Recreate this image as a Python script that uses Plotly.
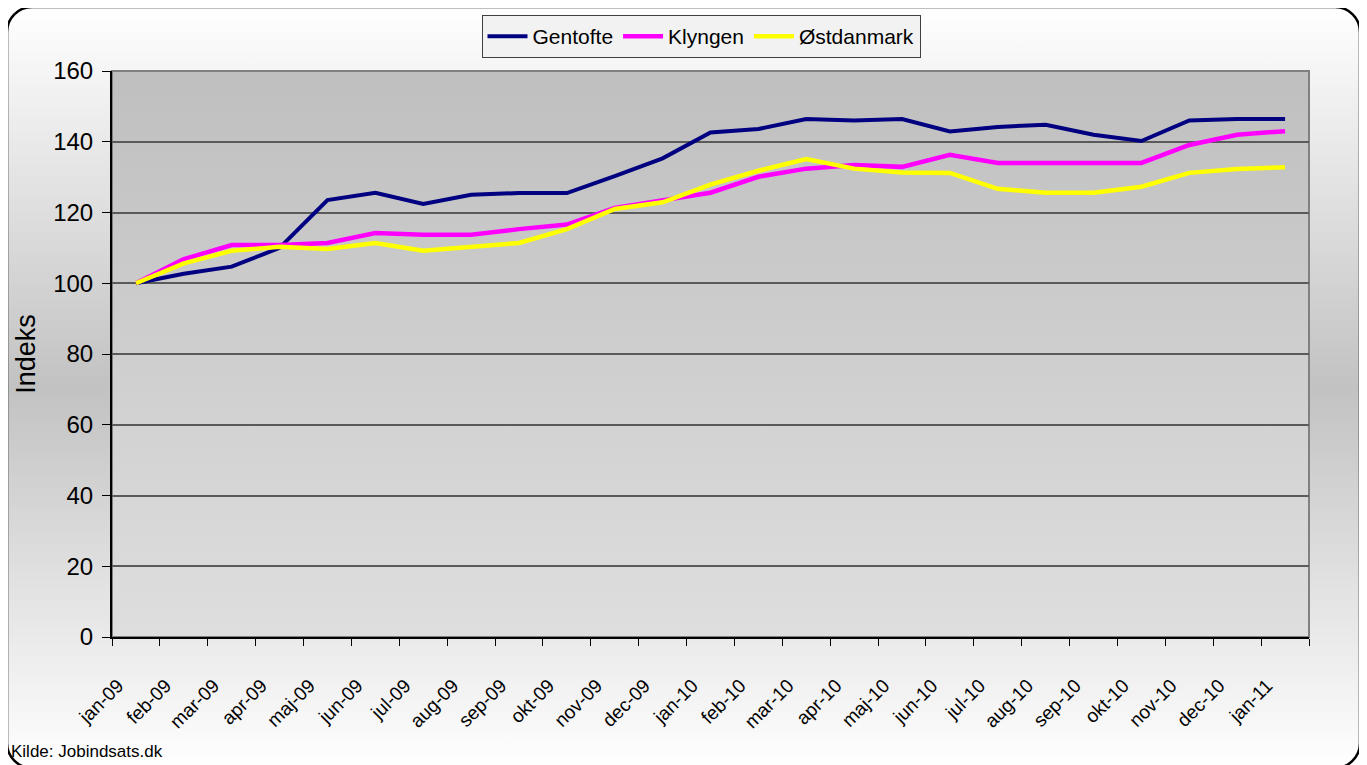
import base64
import plotly.graph_objects as go

months = ["jan-09", "feb-09", "mar-09", "apr-09", "maj-09", "jun-09", "jul-09", "aug-09",
          "sep-09", "okt-09", "nov-09", "dec-09", "jan-10", "feb-10", "mar-10", "apr-10",
          "maj-10", "jun-10", "jul-10", "aug-10", "sep-10", "okt-10", "nov-10", "dec-10", "jan-11"]

gentofte = [100, 102.7, 104.7, 110, 123.5, 125.6, 122.4, 125.0, 125.5, 125.5, 130.3, 135.3, 142.6,
            143.6, 146.4, 146.0, 146.4, 142.9, 144.2, 144.8, 142.0, 140.2, 146.0, 146.4, 146.4]
klyngen = [100, 106.8, 110.8, 110.8, 111.4, 114.2, 113.7, 113.7, 115.3, 116.6, 121.3, 123.3, 125.6,
           130.1, 132.4, 133.4, 132.9, 136.3, 134.0, 134.0, 134.0, 134.0, 139.1, 142.0, 143.0]
ostdanmark = [100, 105.6, 109.2, 110.3, 109.7, 111.4, 109.2, 110.3, 111.4, 115.3, 121.0, 122.9, 127.9,
              131.8, 135.1, 132.4, 131.3, 131.2, 126.7, 125.6, 125.6, 127.3, 131.2, 132.3, 132.8]

# page is 1367x765 but the html body keeps an 8px margin
PAGE_W, PAGE_H, OFF = 1367, 765, 8
PX0, PX1, PY0, PY1 = 112, 1309, 71, 637   # plot area in page pixels
pw, ph = PX1 - PX0, PY1 - PY0
FONT = "Arial, Liberation Sans, sans-serif"


def px(x):
    return (x - PX0) / pw


def py(y):
    return (PY1 - y) / ph


def svg_uri(svg):
    return "data:image/svg+xml;base64," + base64.b64encode(svg.encode()).decode()


outer_svg = f"""<svg xmlns='http://www.w3.org/2000/svg' width='{PAGE_W}' height='{PAGE_H}' viewBox='0 0 {PAGE_W} {PAGE_H}' preserveAspectRatio='none'>
<defs><linearGradient id='g' x1='0' y1='0' x2='0' y2='1'>
<stop offset='0' stop-color='#ffffff'/><stop offset='0.5' stop-color='#c2c2c2'/><stop offset='1' stop-color='#ffffff'/>
</linearGradient></defs>
<rect x='7' y='7' width='1353' height='761' rx='25' ry='25' fill='url(#g)' stroke='#000000' stroke-width='2.5'/>
</svg>"""

plot_svg = """<svg xmlns='http://www.w3.org/2000/svg' width='100' height='100' viewBox='0 0 100 100' preserveAspectRatio='none'>
<defs><linearGradient id='p' x1='0' y1='0' x2='0' y2='1'>
<stop offset='0' stop-color='#bfbfbf'/><stop offset='1' stop-color='#dedede'/>
</linearGradient></defs>
<rect x='0' y='0' width='100' height='100' fill='url(#p)'/>
</svg>"""

fig = go.Figure()
for name, vals, color, w in [("Gentofte", gentofte, "#000080", 4),
                             ("Klyngen", klyngen, "#ff00ff", 4.5),
                             ("Østdanmark", ostdanmark, "#ffff00", 4.5)]:
    fig.add_trace(go.Scatter(x=months, y=vals, name=name, mode="lines",
                             line=dict(color=color, width=w)))

fig.update_layout(
    width=PAGE_W - OFF, height=PAGE_H - OFF,
    margin=dict(l=PX0 - OFF, r=PAGE_W - PX1, t=PY0 - OFF, b=PAGE_H - PY1, autoexpand=False),
    paper_bgcolor="white",
    plot_bgcolor="rgba(0,0,0,0)",
    font=dict(family=FONT, color="black"),
    showlegend=True,
    legend=dict(orientation="h", x=px(701), xanchor="center", y=py(15), yanchor="top",
                bgcolor="#f2f2f2", bordercolor="#404040", borderwidth=1,
                font=dict(size=21, family=FONT), itemwidth=40),
    images=[
        dict(source=svg_uri(outer_svg), xref="paper", yref="paper",
             x=px(0), y=py(0), sizex=PAGE_W / pw, sizey=PAGE_H / ph,
             xanchor="left", yanchor="top", sizing="stretch", layer="below"),
        dict(source=svg_uri(plot_svg), xref="paper", yref="paper",
             x=0, y=1, sizex=1, sizey=1,
             xanchor="left", yanchor="top", sizing="stretch", layer="below"),
    ],
    shapes=[dict(type="rect", xref="paper", yref="paper", x0=0, x1=1, y0=0, y1=1,
                 line=dict(color="#808080", width=2), layer="below")],
    annotations=[dict(text="Kilde: Jobindsats.dk", xref="paper", yref="paper",
                      x=px(9), y=py(751), xanchor="left", yanchor="middle",
                      showarrow=False, font=dict(size=17, family=FONT))],
)

fig.update_xaxes(type="category", range=[-0.5, len(months) - 0.5],
                 showgrid=False, showline=True, linecolor="black", linewidth=2,
                 ticks="outside", tickson="boundaries", ticklen=7, tickcolor="black",
                 tickangle=-45, tickfont=dict(size=19, family=FONT),
                 ticklabelshift=-18, ticklabelstandoff=28)
fig.update_yaxes(range=[0, 160], dtick=20, showgrid=True, gridcolor="#5a5a5a", gridwidth=1.5,
                 zeroline=False, showline=True, linecolor="black", linewidth=2,
                 ticks="outside", ticklen=8, tickcolor="black", ticklabelstandoff=4,
                 tickfont=dict(size=24, family=FONT),
                 title=dict(text="Indeks", font=dict(size=27, family=FONT), standoff=10))

fig.write_html("out.html")
